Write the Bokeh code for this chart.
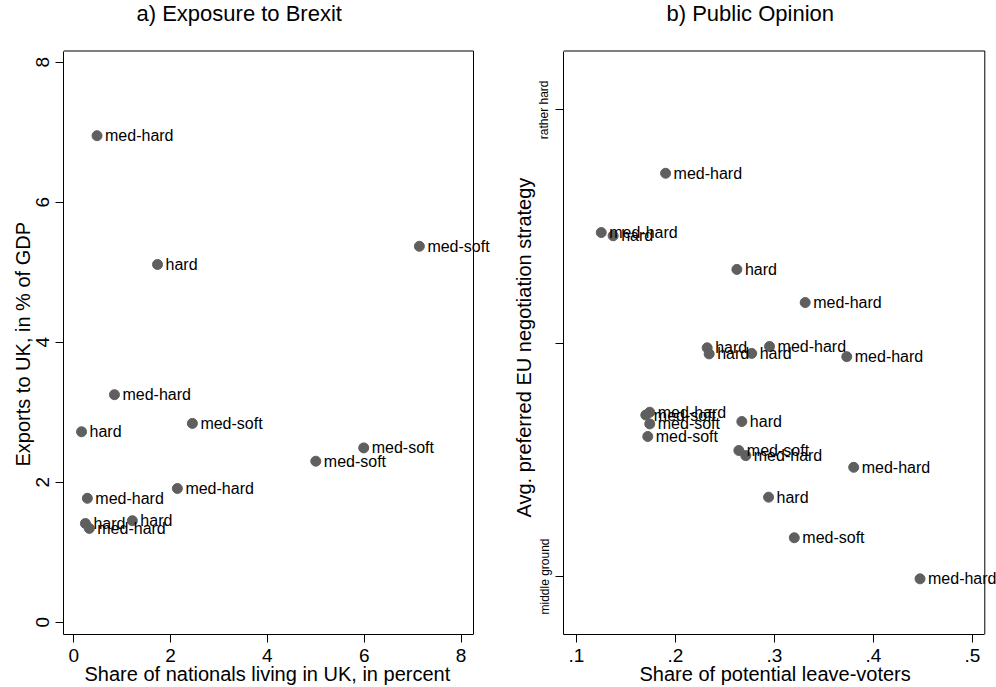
from bokeh.plotting import figure
from bokeh.models import ColumnDataSource, LabelSet, Label, Range1d, FixedTicker, Title
from bokeh.layouts import row
from bokeh.embed import file_html
from bokeh.resources import INLINE
from bokeh.core.properties import value

FONT = "Liberation Sans"

# Panel a) Exposure to Brexit
nationals_share = [0.48, 1.73, 7.14, 0.84, 0.16, 2.45, 5.99, 5.00, 2.14, 0.28, 0.24, 0.32, 1.21]
exports_gdp = [6.95, 5.11, 5.37, 3.25, 2.72, 2.84, 2.49, 2.30, 1.91, 1.77, 1.41, 1.34, 1.45]
labels_a = ["med-hard", "hard", "med-soft", "med-hard", "hard", "med-soft", "med-soft",
            "med-soft", "med-hard", "med-hard", "hard", "med-hard", "hard"]
xticks_a = [0, 2, 4, 6, 8]
yticks_a = [0, 2, 4, 6, 8]

# Panel b) Public Opinion
leave_share = [0.190, 0.125, 0.137, 0.262, 0.331, 0.232, 0.234, 0.277, 0.295, 0.373, 0.174,
               0.170, 0.174, 0.172, 0.267, 0.264, 0.271, 0.380, 0.294, 0.320, 0.447]
strategy = [3.864, 3.737, 3.730, 3.658, 3.587, 3.490, 3.477, 3.478, 3.493, 3.471, 3.352,
            3.346, 3.327, 3.300, 3.332, 3.270, 3.259, 3.234, 3.170, 3.083, 2.995]
labels_b = ["med-hard", "med-hard", "hard", "hard", "med-hard", "hard", "hard", "hard",
            "med-hard", "med-hard", "med-hard", "med-soft", "med-soft", "med-soft", "hard",
            "med-soft", "med-hard", "med-hard", "hard", "med-soft", "med-hard"]
xticks_b = [0.1, 0.2, 0.3, 0.4, 0.5]
xticklabels_b = [".1", ".2", ".3", ".4", ".5"]
yticks_b = [3.0, 3.5, 4.0]
yticklabels_b = ["middle ground", "", "rather hard"]

MARKER = "#5f5f5f"
H = 687
BOTTOM = 53
FRAME_BOTTOM_PX = H - BOTTOM  # frame spans 0 .. 634 px (top of frame = top of figure)


def make_panel(xs, ys, labs, width, border_left, xcal, ycal, box_right_px, box_top_px,
               title, title_px, xlabel, xlabel_offset, ylabel, ylabel_offset):
    # xcal = (data0, px0, px_per_unit); ycal likewise (px grows downwards)
    x0, xp0, xs_ = xcal
    y0, yp0, ys_ = ycal
    fx = lambda px: x0 + (px - xp0) / xs_
    fy = lambda py: y0 + (yp0 - py) / ys_
    xr = (fx(border_left), fx(width))
    yr = (fy(FRAME_BOTTOM_PX), fy(0))
    box_right = fx(box_right_px)
    box_top = fy(box_top_px)

    p = figure(width=width, height=H, output_backend="svg", toolbar_location=None,
               x_range=Range1d(*xr), y_range=Range1d(*yr),
               min_border_left=border_left, min_border_right=0,
               min_border_top=0, min_border_bottom=BOTTOM)
    p.grid.visible = False
    p.outline_line_color = None
    p.background_fill_color = "white"
    p.border_fill_color = "white"

    # top and right edges of the plot box (left/bottom edges are the axis lines)
    p.line([xr[0], box_right, box_right], [box_top, box_top, yr[0]],
           line_color="black", line_width=1)

    src = ColumnDataSource(dict(x=xs, y=ys, lab=labs))
    p.scatter("x", "y", source=src, size=10, marker="circle", fill_color=MARKER, line_color=MARKER)
    ls = LabelSet(x="x", y="y", text="lab", source=src, x_offset=8, y_offset=0,
                  text_baseline="middle", text_align="left", text_font=value(FONT),
                  text_font_size="16px", text_color="black")
    p.add_layout(ls)

    for ax in (p.xaxis[0], p.yaxis[0]):
        ax.axis_line_color = "black"
        ax.major_tick_line_color = "black"
        ax.major_tick_out = 8
        ax.major_tick_in = 0
        ax.minor_tick_line_color = None
        ax.major_label_text_font = FONT
        ax.major_label_text_font_size = "19px"
        ax.major_label_text_color = "black"
    p.xaxis[0].bounds = (xr[0], box_right)
    p.yaxis[0].bounds = (yr[0], box_top)
    p.xaxis[0].major_label_standoff = 6

    tl = Label(x=fx(title_px[0]), y=fy(title_px[1]), text=title, text_baseline="middle",
               text_align="left", text_font=FONT, text_font_size="22px", text_color="black")
    p.add_layout(tl)
    xl = Title(text=xlabel, align="left", offset=xlabel_offset, standoff=-8,
               text_font=FONT, text_font_size="20px", text_font_style="normal", text_color="black")
    p.add_layout(xl, "below")
    yl = Title(text=ylabel, align="left", offset=ylabel_offset, standoff=0,
               text_font=FONT, text_font_size="20px", text_font_style="normal", text_color="black")
    p.add_layout(yl, "left")
    return p


p1 = make_panel(nationals_share, exports_gdp, labels_a, 500, 63,
                (0, 73.3, 48.4), (0, 621.7, 70.0), 473, 50.5,
                "a) Exposure to Brexit", (136, 13),
                "Share of nationals living in UK, in percent", 21,
                "Exports to UK, in % of GDP", 168)
p1.xaxis[0].ticker = FixedTicker(ticks=xticks_a)
p1.yaxis[0].ticker = FixedTicker(ticks=yticks_a)
p1.yaxis[0].major_label_orientation = "vertical"
p1.yaxis[0].major_label_standoff = 6

p2 = make_panel(leave_share, strategy, labels_b, 496, 63,
                (0.1, 576 - 500, 990.0), (3.0, 576, 466.7), 984.3 - 500, 50.5,
                "b) Public Opinion", (666 - 500, 13),
                "Share of potential leave-voters", 76,
                "Avg. preferred EU negotiation strategy", 117)
p2.xaxis[0].ticker = FixedTicker(ticks=xticks_b)
p2.xaxis[0].major_label_overrides = {t: l for t, l in zip(xticks_b, xticklabels_b)}
p2.yaxis[0].ticker = FixedTicker(ticks=yticks_b)
p2.yaxis[0].major_label_overrides = {t: l for t, l in zip(yticks_b, yticklabels_b)}
p2.yaxis[0].major_label_orientation = "vertical"
p2.yaxis[0].major_label_text_font_size = "12px"
p2.yaxis[0].major_label_standoff = 4

layout = row(p1, p2)
open("out.html", "w").write(file_html(layout, INLINE))
